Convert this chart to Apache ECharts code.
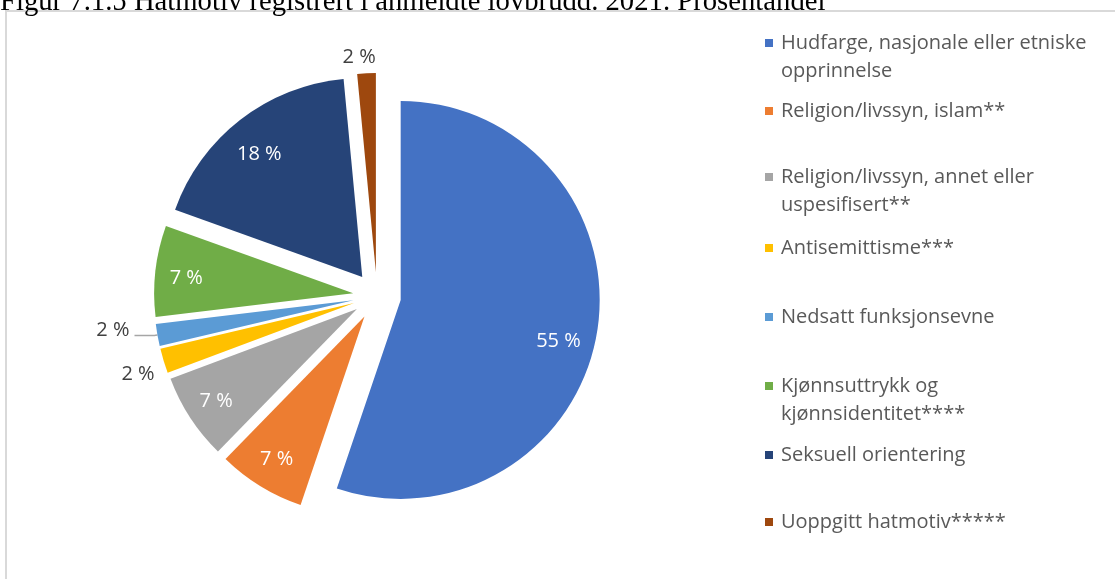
<!DOCTYPE html>
<html>
<head>
<meta charset="utf-8">
<script src="https://cdn.jsdelivr.net/npm/echarts@6/dist/echarts.min.js"></script>
<style>
html, body { margin: 0; padding: 0; background: #fff; }
#chart { width: 1115px; height: 579px; }
</style>
</head>
<body>
<div id="chart"></div>
<script>
// hatmotiv, andel i prosent (vises avrundet)
const categories = [
  'Hudfarge, nasjonale eller etniske opprinnelse',
  'Religion/livssyn, islam**',
  'Religion/livssyn, annet eller uspesifisert**',
  'Antisemittisme***',
  'Nedsatt funksjonsevne',
  'Kjønnsuttrykk og kjønnsidentitet****',
  'Seksuell orientering',
  'Uoppgitt hatmotiv*****'
];
const shares = [55.2, 7.1, 7.0, 2.0, 1.8, 7.4, 18.0, 1.5];

const colors = ['#4472C4', '#ED7D31', '#A5A5A5', '#FFC000', '#5B9BD5', '#70AD47', '#264478', '#9E480E'];
const font = 'Open Sans';

// legend line breaks like in the original (leading empty line keeps the marker on line 1)
const legendText = {
  'Hudfarge, nasjonale eller etniske opprinnelse': '\nHudfarge, nasjonale eller etniske\nopprinnelse',
  'Religion/livssyn, annet eller uspesifisert**': '\nReligion/livssyn, annet eller\nuspesifisert**',
  'Kjønnsuttrykk og kjønnsidentitet****': '\nKjønnsuttrykk og\nkjønnsidentitet****'
};
// y of each legend marker
const legendY = [43, 111, 177, 248, 317, 386, 455, 522];
const LH = 28;

// small slices get their label outside the pie
const outsideLabel = {
  3: { labelLine: { show: false, length: 0, length2: 4 } },
  4: { labelLine: { show: true, length: 3, length2: 20 } },
  7: { label: { distanceToLabelLine: -10 }, labelLine: { show: false, length: 16, length2: 0 } }
};
// small nudges, Excel places some labels a bit off the bisector
const nudgeOutside = { 3: { dy: 13 }, 4: { dy: -5 } };
const nudgeInside = { 0: { dx: -8, dy: 14 }, 5: { dy: 4 }, 6: { dy: 10 } };

const center = [377, 296];
const pct = p => Math.round(p.value) + ' %';

let myChart = echarts.init(document.getElementById('chart'));

let legends = categories.map((name, i) => {
  const multi = !!legendText[name];
  const h = multi ? 3 * LH : LH;
  return {
    data: [name],
    left: 765,
    top: legendY[i] - h / 2,
    padding: 0,
    icon: 'rect',
    itemWidth: 8,
    itemHeight: 8,
    selectedMode: false,
    formatter: n => legendText[n] || n,
    textStyle: {
      fontFamily: font,
      fontSize: 20,
      color: '#595959',
      lineHeight: LH,
      padding: [0, 0, 0, 3]
    }
  };
});

let option = {
  animation: false,
  color: colors,
  legend: legends,
  graphic: [
    {
      type: 'rect',
      z: -1,
      shape: { x: 6, y: 11, width: 1300, height: 800 },
      style: { fill: 'none', stroke: '#d9d9d9', lineWidth: 2 }
    },
    {
      type: 'text',
      left: 0,
      top: -12,
      style: {
        text: 'Figur 7.1.5 Hatmotiv registrert i anmeldte lovbrudd. 2021. Prosentandel',
        font: '28.7px "Liberation Serif"',
        fill: '#000'
      }
    }
  ],
  series: [
    {
      type: 'pie',
      name: 'sektorer',
      center: center,
      radius: 199,
      startAngle: 90,
      clockwise: true,
      selectedMode: 'multiple',
      selectedOffset: 24,
      avoidLabelOverlap: false,
      silent: true,
      emphasis: { disabled: true },
      label: { show: false },
      labelLine: { show: false },
      labelLayout: p => nudgeOutside[p.dataIndex] || {},
      data: categories.map((name, i) => {
        const item = { name: name, value: shares[i], selected: true, itemStyle: { color: colors[i] } };
        const o = outsideLabel[i];
        if (o) {
          item.label = Object.assign({
            show: true,
            position: 'outside',
            formatter: pct,
            fontFamily: font,
            fontSize: 20,
            color: '#404040'
          }, o.label);
          item.labelLine = Object.assign({
            smooth: 0.3,
            lineStyle: { color: '#a6a6a6', width: 1.5 }
          }, o.labelLine);
        }
        return item;
      })
    },
    {
      // transparent twin, only used to place the inside labels further out
      type: 'pie',
      name: 'etiketter',
      center: center,
      radius: 330,
      startAngle: 90,
      clockwise: true,
      selectedMode: 'multiple',
      selectedOffset: 24,
      silent: true,
      emphasis: { disabled: true },
      itemStyle: { color: 'rgba(0,0,0,0)' },
      labelLine: { show: false },
      label: {
        position: 'inside',
        formatter: pct,
        fontFamily: font,
        fontSize: 20,
        color: '#fff'
      },
      labelLayout: p => nudgeInside[p.dataIndex] || {},
      data: categories.map((name, i) => ({
        name: name,
        value: shares[i],
        selected: true,
        itemStyle: { color: 'rgba(0,0,0,0)' },
        label: { show: !outsideLabel[i] }
      }))
    }
  ]
};

option && myChart.setOption(option);
</script>
</body>
</html>
